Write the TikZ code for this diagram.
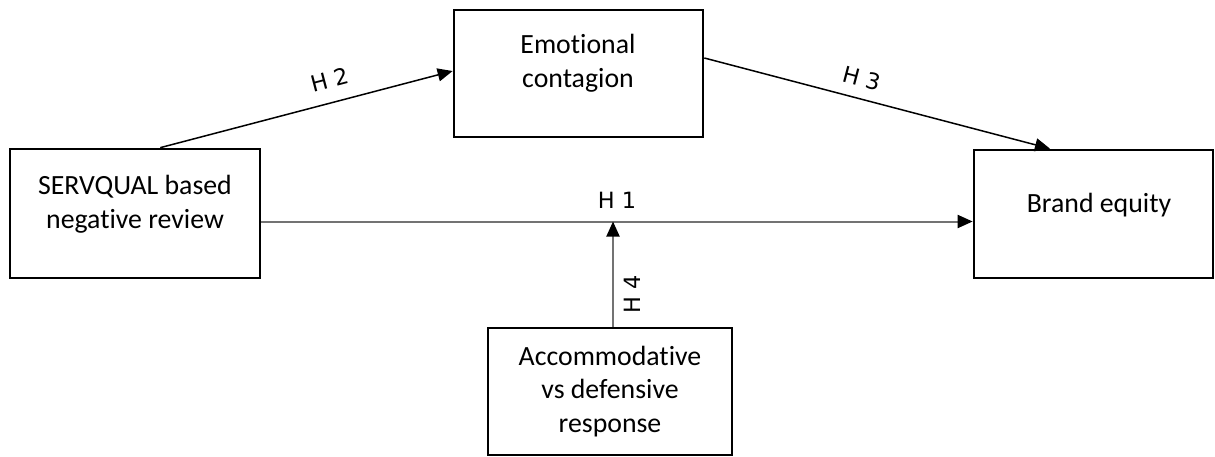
\documentclass[tikz,border=0pt]{standalone}
\usepackage{fontspec}
\setmainfont{Carlito}[Ligatures=NoCommon]
\newfontfamily\labelfont{DejaVu Sans}
\usetikzlibrary{arrows.meta,calc}
\begin{document}
\begin{tikzpicture}[x=0.5pt,y=-0.5pt,
  box/.style={draw=black, line width=1.35pt, rectangle, inner sep=0pt},
  txt/.style={align=center, inner sep=0pt, font=\fontsize{13.9}{16.9}\selectfont},
  lbl/.style={inner sep=0pt, font=\labelfont\fontsize{11.2}{13}\selectfont},
  link/.style={line width=0.75pt, -{Triangle[length=7.5pt,width=6.5pt]}},
  greylink/.style={draw=black!55, line width=1pt, -{Triangle[length=7.5pt,width=6.5pt,color=black]}}]
\useasboundingbox (0,0) rectangle (1215,456);

% construct boxes
\node[box, minimum width=125pt, minimum height=64.5pt] (sq) at (135,213.5) {};
\node[txt] (sqt) at (135,204) {SERVQUAL based\\negative review};

\node[box, minimum width=124.5pt, minimum height=63.5pt] (em) at (578.5,73.5) {};
\node[txt] (emt) at (578,63.5) {Emotional\\contagion};

\node[box, minimum width=119.5pt, minimum height=64pt] (be) at (1093.5,214) {};
\node[txt] (bet) at (1099,205) {Brand equity};

\node[box, minimum width=122pt, minimum height=63.5pt, txt] (acc) at (610,391.5)
  {Accommodative\\vs defensive\\response};

% hypothesised paths
\draw[link] ($(sq.north west)!0.6!(sq.north east)$) -- ([yshift=1.25pt]em.west)
  node[lbl, sloped, pos=0.6, above=7pt] {H 2};
\draw[link] ([yshift=7.75pt]em.east) -- ($(be.north west)!0.32!(be.north east)$)
  node[lbl, sloped, pos=0.44, above=5.6pt] {H 3};
\coordinate (h1s) at ([yshift=-4pt]sq.east);
\draw[greylink] (h1s) -- (h1s -| be.west)
  node[lbl, pos=0.5, above=6pt] {H 1};
\draw[greylink] ([xshift=1.5pt]acc.north) -- ([xshift=1.5pt]acc.north |- h1s);
\node[lbl, rotate=90] (h4) at ([xshift=11pt, yshift=16pt]acc.north) {H 4};
\end{tikzpicture}
\end{document}
